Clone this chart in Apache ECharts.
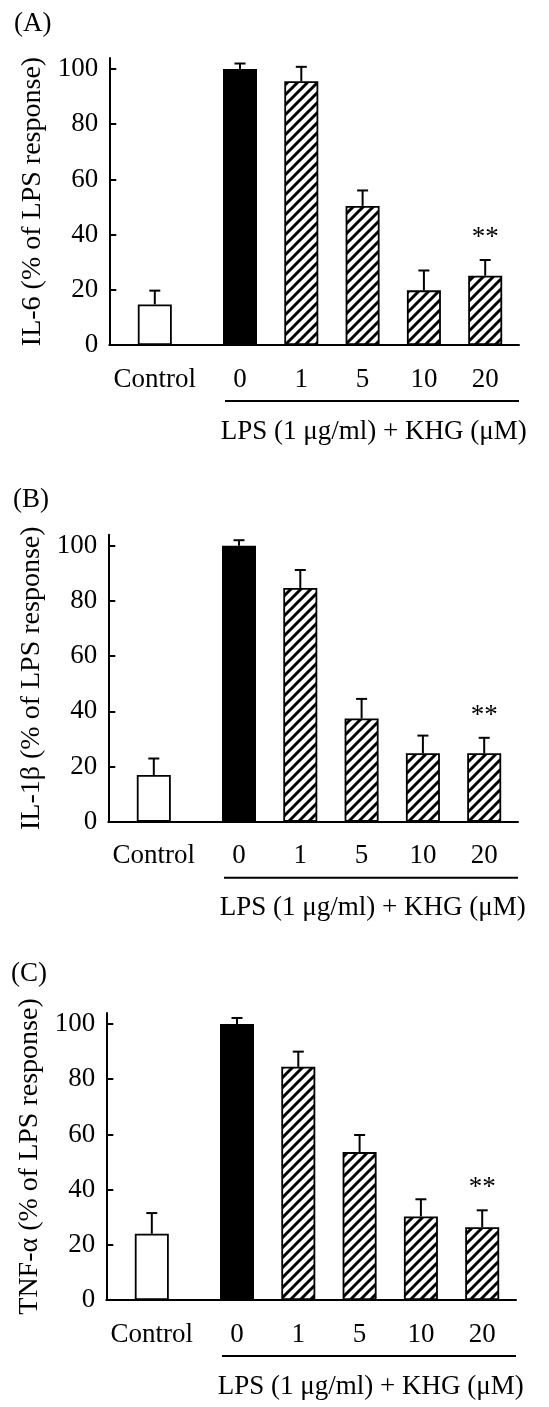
<!DOCTYPE html>
<html><head><meta charset="utf-8">
<script src="https://cdn.jsdelivr.net/npm/echarts@6/dist/echarts.min.js"></script>
<style>html,body{margin:0;padding:0;background:#fff}#c{width:549px;height:1407px}</style>
</head><body><div id="c"></div>
<script>
// ---------- data ----------
const controlCategory = ['Control'];
const khgDoses = ['0', '1', '5', '10', '20'];
const yTickValues = [0, 20, 40, 60, 80, 100];
const panelLetters = ['(A)', '(B)', '(C)'];
const yAxisNames = ['IL-6 (% of LPS response)', 'IL-1β (% of LPS response)', 'TNF-α (% of LPS response)'];
const groupCaption = 'LPS (1 μg/ml) + KHG (μM)';
const significance = ['', '', '', '', '**'];

const il6Control = [14.7];
const il6ControlErr = [5.0];
const il6Values = [100, 95.6, 50.4, 19.8, 25.1];
const il6Err = [2.0, 5.2, 5.6, 7.2, 5.7];

const il1bControl = [16.9];
const il1bControlErr = [6.0];
const il1bValues = [100, 84.7, 37.4, 24.8, 24.8];
const il1bErr = [2.0, 6.5, 7.1, 6.4, 5.6];

const tnfControl = [24.0];
const tnfControlErr = [7.5];
const tnfValues = [100, 84.5, 53.6, 30.3, 26.4];
const tnfErr = [2.2, 5.5, 6.2, 6.2, 6.1];

// ---------- rendering ----------
const FONT = '"Liberation Serif", "Times New Roman", serif';
const panelsData = [
  {ctrl: il6Control, ctrlErr: il6ControlErr, vals: il6Values, errs: il6Err},
  {ctrl: il1bControl, ctrlErr: il1bControlErr, vals: il1bValues, errs: il1bErr},
  {ctrl: tnfControl, ctrlErr: tnfControlErr, vals: tnfValues, errs: tnfErr}
];
const layout = [
  {bottomY: 345, dx: 0, letterTop: 10},
  {bottomY: 821.7, dx: -1, letterTop: 486.5},
  {bottomY: 1300, dx: -3, letterTop: 960}
];
const PLOT_H = 287, YMAX = 104;

function hatchCanvas() {
  const c = document.createElement('canvas'); c.width = 10; c.height = 10;
  const g = c.getContext('2d');
  g.fillStyle = '#fff'; g.fillRect(0, 0, 10, 10);
  g.strokeStyle = '#000'; g.lineWidth = 3;
  g.beginPath();
  g.moveTo(-5, 5); g.lineTo(5, -5);
  g.moveTo(-1, 11); g.lineTo(11, -1);
  g.moveTo(5, 15); g.lineTo(15, 5);
  g.stroke();
  return c;
}
const hatch = hatchCanvas();

const grids = [], xAxes = [], yAxes = [], series = [], titles = [], graphics = [];

function hiddenY(gi) {
  return {type: 'value', gridIndex: gi, min: 0, max: YMAX, show: false, splitLine: {show: false}};
}
function catX(gi, data) {
  return {type: 'category', gridIndex: gi, data: data,
    axisLine: {show: false}, axisTick: {show: false}, splitLine: {show: false},
    axisLabel: {fontSize: 27, fontFamily: FONT, color: '#000', margin: 21, interval: 0}};
}
function errSeries(xi, vals, errs, sig) {
  return {
    type: 'custom', xAxisIndex: xi, yAxisIndex: xi, z: 5,
    data: vals.map((v, i) => [i, v, v + errs[i]]),
    renderItem(params, api) {
      const x = api.value(0);
      const lo = api.coord([x, api.value(1)]);
      const hi = api.coord([x, api.value(2)]);
      const ch = [
        {type: 'line', shape: {x1: lo[0], y1: lo[1], x2: hi[0], y2: hi[1]}, style: {stroke: '#000', lineWidth: 2}},
        {type: 'line', shape: {x1: hi[0] - 5.5, y1: hi[1], x2: hi[0] + 5.5, y2: hi[1]}, style: {stroke: '#000', lineWidth: 2}}
      ];
      const s = sig ? sig[params.dataIndex] : '';
      if (s) {
        ch.push({type: 'text', style: {text: s, x: hi[0], y: hi[1] - 22, align: 'center', verticalAlign: 'middle',
          fontSize: 27, fontFamily: FONT, fill: '#000'}});
      }
      return {type: 'group', children: ch};
    }
  };
}

panelsData.forEach((p, k) => {
  const L = layout[k];
  const top = L.bottomY - PLOT_H;
  const gFrame = grids.length;
  // frame grid: axis lines, y ticks & labels
  grids.push({left: 109.3 + L.dx, top: top, width: 409.7, height: PLOT_H});
  xAxes.push({type: 'value', gridIndex: gFrame, min: 0, max: 1,
    axisLine: {show: true, lineStyle: {color: '#000', width: 2}},
    axisTick: {show: false}, axisLabel: {show: false}, splitLine: {show: false}});
  yAxes.push({type: 'value', gridIndex: gFrame, min: 0, max: YMAX, interval: 20,
    name: yAxisNames[k], nameLocation: 'middle', nameGap: 62,
    nameTextStyle: {fontSize: 28, fontFamily: FONT, color: '#000'},
    axisLine: {show: true, lineStyle: {color: '#000', width: 2}},
    axisTick: {show: true, inside: true, length: 7, lineStyle: {color: '#000', width: 2}, customValues: yTickValues},
    axisLabel: {fontSize: 27, fontFamily: FONT, color: '#000', margin: 11, customValues: yTickValues},
    splitLine: {show: false}});
  // control grid
  const gC = grids.length;
  grids.push({left: 109.3 + L.dx, top: top, width: 91, height: PLOT_H});
  xAxes.push(catX(gC, controlCategory));
  yAxes.push(hiddenY(gC));
  // LPS grid
  const gL = grids.length;
  grids.push({left: 209.35 + L.dx, top: top, width: 306.5, height: PLOT_H});
  xAxes.push(catX(gL, khgDoses));
  yAxes.push(hiddenY(gL));

  series.push({type: 'bar', xAxisIndex: gC, yAxisIndex: gC, barWidth: 34,
    data: p.ctrl.map(v => ({value: v, itemStyle: {color: '#fff', borderColor: '#000', borderWidth: 1.8}}))});
  series.push(errSeries(gC, p.ctrl, p.ctrlErr, null));
  series.push({type: 'bar', xAxisIndex: gL, yAxisIndex: gL, barWidth: 34,
    data: p.vals.map((v, i) => ({value: v, itemStyle: i === 0
      ? {color: '#000', borderColor: '#000', borderWidth: 1.8}
      : {color: {image: hatch, repeat: 'repeat'}, borderColor: '#000', borderWidth: 1.8}}))});
  series.push(errSeries(gL, p.vals, p.errs, significance));

  titles.push({text: panelLetters[k], left: 14 + L.dx, top: L.letterTop, padding: 0,
    textStyle: {fontSize: 27, fontFamily: FONT, fontWeight: 'normal', color: '#000'}});
  titles.push({text: groupCaption, right: 22.3 - L.dx, top: L.bottomY + 87 - 14, padding: 0,
    textStyle: {fontSize: 27, fontFamily: FONT, fontWeight: 'normal', color: '#000'}});
  graphics.push({type: 'line', shape: {x1: 225 + L.dx, y1: L.bottomY + 56, x2: 519 + L.dx, y2: L.bottomY + 56},
    style: {stroke: '#000', lineWidth: 2}});
});

const chart = echarts.init(document.getElementById('c'), null, {renderer: 'canvas'});
chart.setOption({
  animation: false,
  backgroundColor: '#fff',
  title: titles,
  grid: grids,
  xAxis: xAxes,
  yAxis: yAxes,
  series: series,
  graphic: graphics
});
</script>
</body></html>
